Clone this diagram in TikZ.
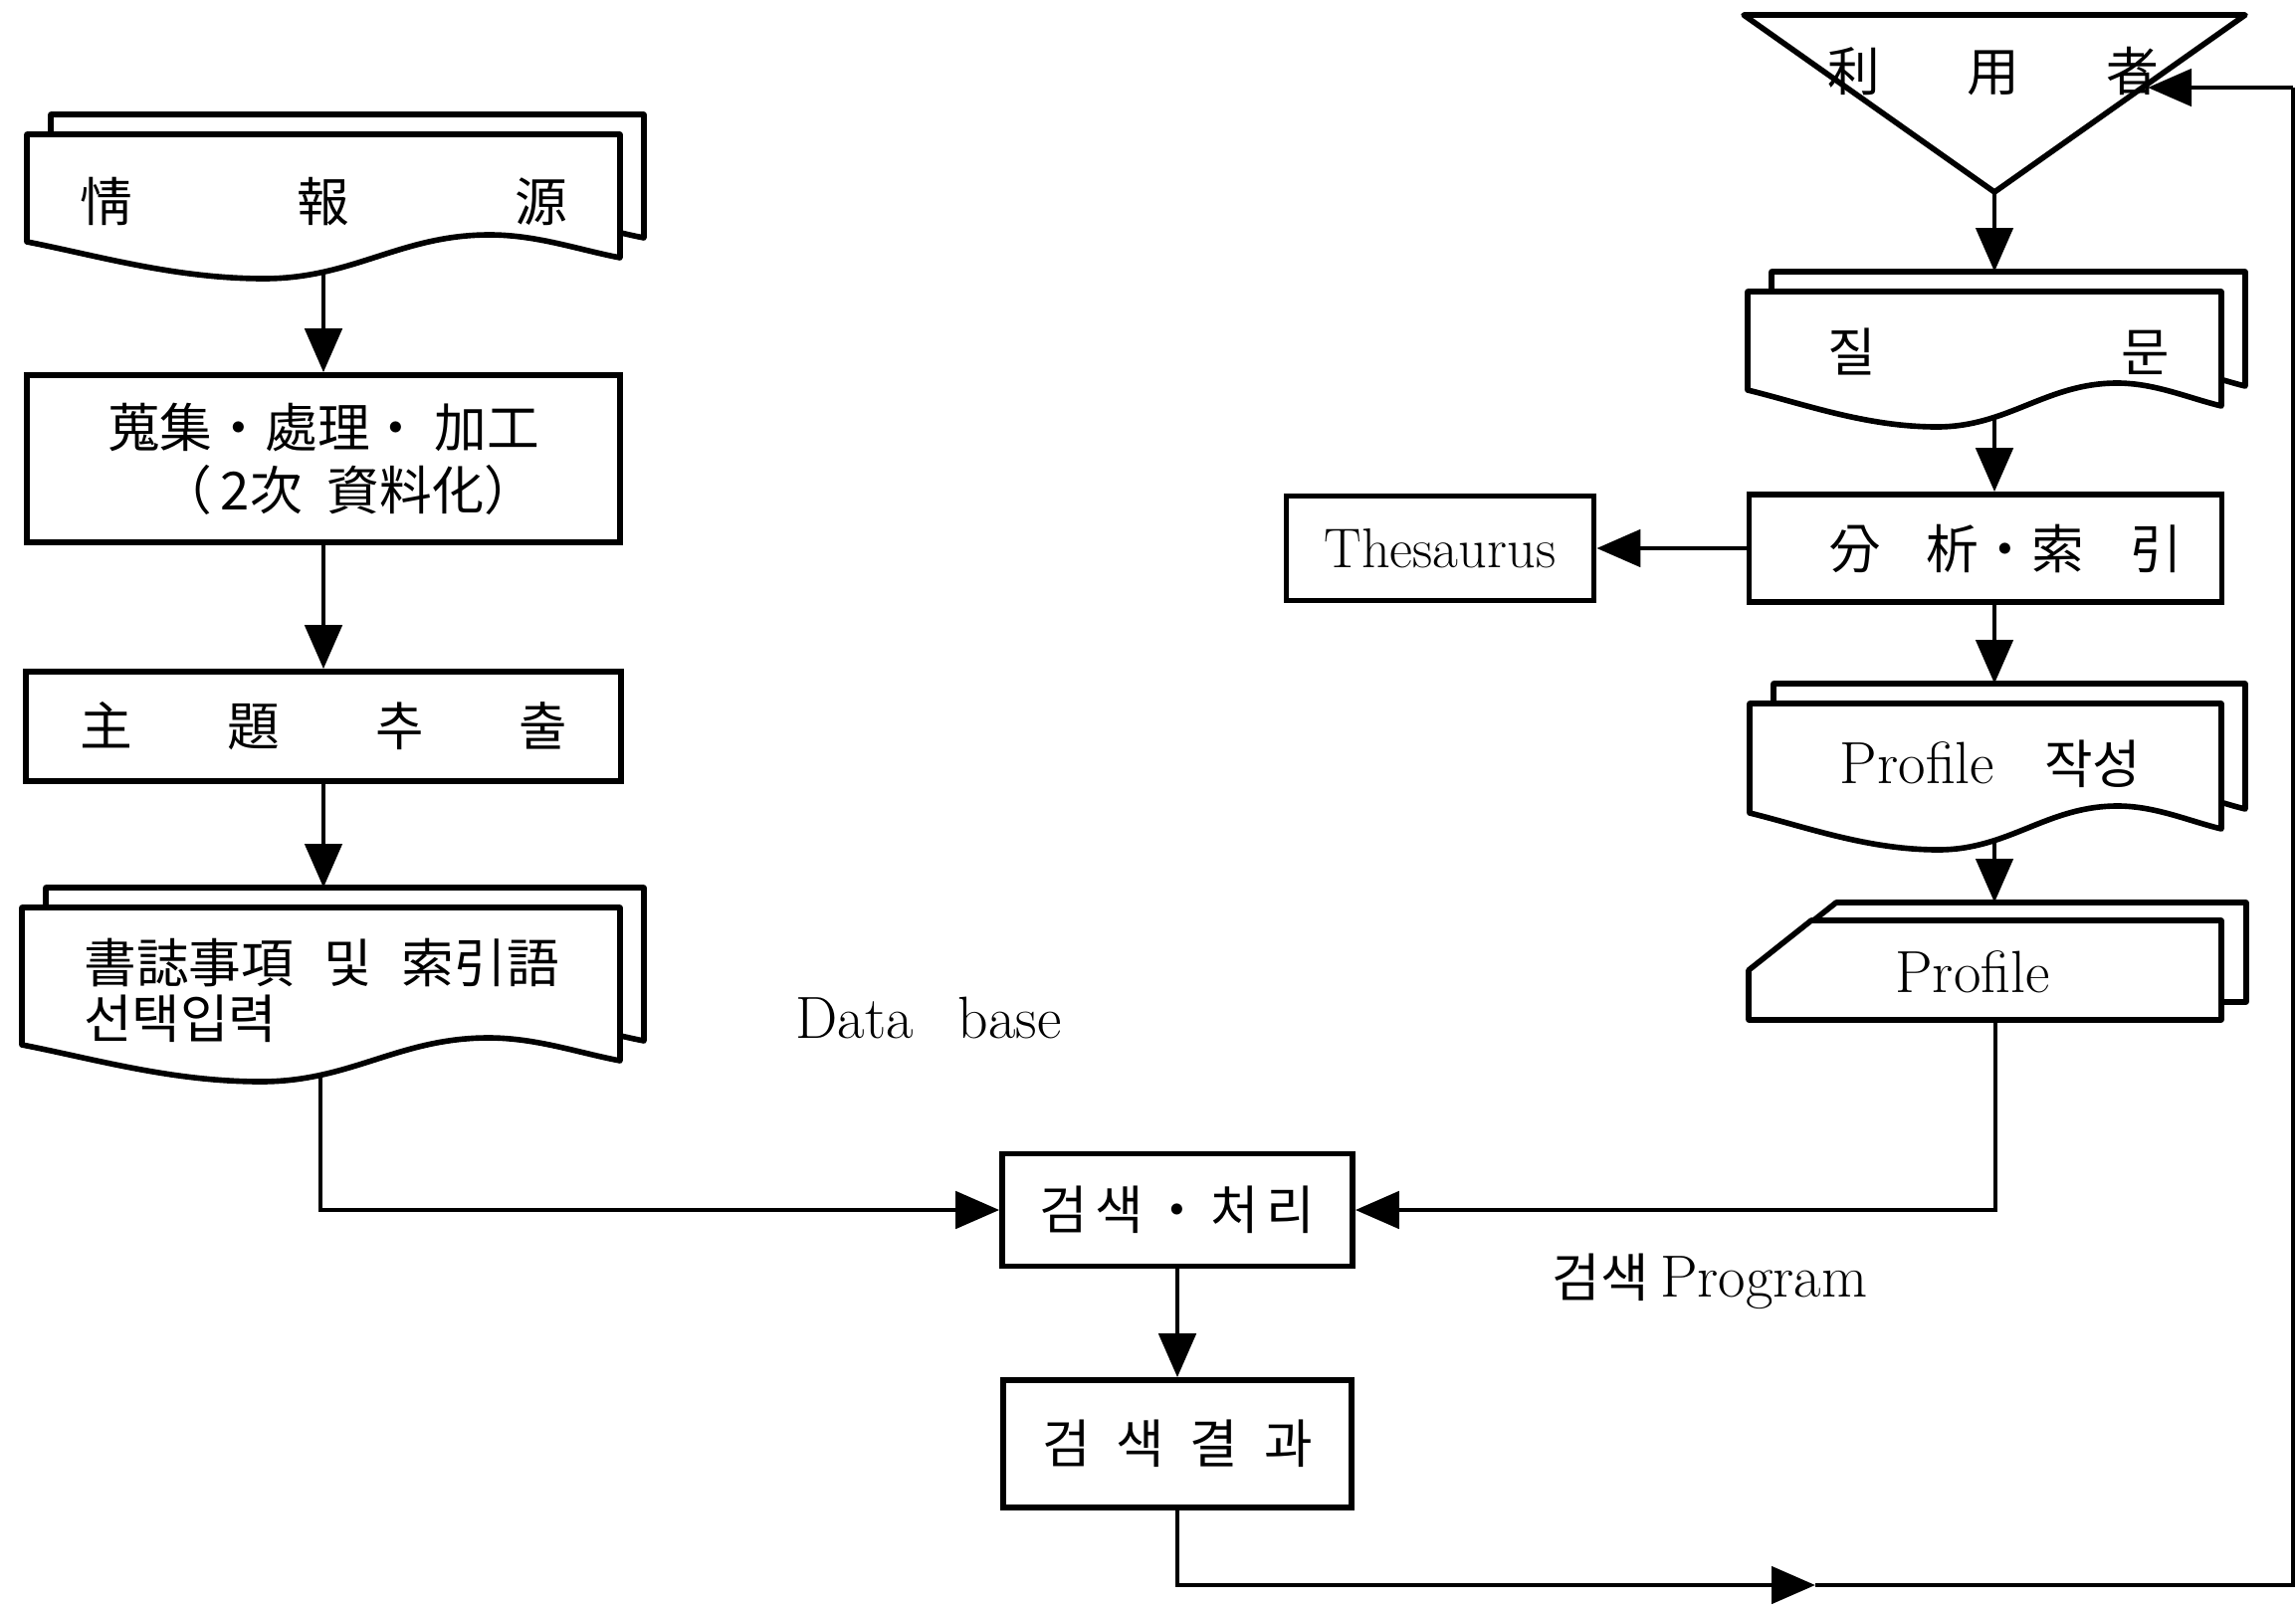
\documentclass[tikz,border=0pt]{standalone}
\usepackage{fontspec}
\newfontfamily\kr{Noto Sans CJK KR}
\usetikzlibrary{arrows.meta}

\pgfdeclarelayer{paper}
\pgfdeclarelayer{wires}
\pgfsetlayers{paper,wires,main}

\tikzset{
  sheet/.style={draw,fill=white,line width=1.6pt,line join=round},
  box/.style={draw,fill=white,line width=1.6pt,inner sep=0pt,align=center},
  krtext/.style={font=\kr\fontsize{15}{18}\selectfont},
  latin/.style={font=\fontsize{17}{20}\selectfont},
  link/.style={line width=1.4pt},
  flow/.style={link,-{Triangle[length=4.4mm,width=3.7mm]}},
}

% sheet with a wavy lower edge: left, top, right, lower left corner
\newcommand{\wavesheet}[4]{%
  \draw[sheet] ({#1},{#2}) -- ({#3},{#2}) -- ({#3},{(#4)+16})
    .. controls ({(#1)+0.93*((#3)-(#1))},{(#4)+8}) and ({(#1)+0.86*((#3)-(#1))},{(#4)-7}) .. ({(#1)+0.78*((#3)-(#1))},{(#4)-7})
    .. controls ({(#1)+0.63*((#3)-(#1))},{(#4)-7}) and ({(#1)+0.55*((#3)-(#1))},{(#4)+37}) .. ({(#1)+0.4*((#3)-(#1))},{(#4)+37})
    .. controls ({(#1)+0.25*((#3)-(#1))},{(#4)+37}) and ({(#1)+0.12*((#3)-(#1))},{(#4)+14}) .. ({#1},{#4})
    -- cycle;}
\newcommand{\wavestack}[4]{\wavesheet{(#1)+24}{(#2)-20}{(#3)+24}{(#4)-20}\wavesheet{#1}{#2}{#3}{#4}}

% card with the top left corner cut off
\newcommand{\cardsheet}[4]{%
  \draw[sheet] ({(#1)+63},{#2}) -- ({#3},{#2}) -- ({#3},{#4}) -- ({#1},{#4}) -- ({#1},{(#2)+50}) -- cycle;}

\begin{document}
\begin{tikzpicture}[x=0.1mm,y=-0.1mm]
\begin{pgfonlayer}{paper}
\fill[white] (0,0) rectangle (2307,1612);
\end{pgfonlayer}
\useasboundingbox (0,0) rectangle (2307,1612);

% left column
\wavestack{27}{135}{623}{243}
\node[krtext] (src) at (325,203) {\makebox[49mm]{情\hfill 報\hfill 源}};

\node[box,krtext,minimum width=59.6mm,minimum height=16.8mm] (collect) at (325,461)
{蒐集・處理・ 加工\\\hspace*{5mm}（\,2次\hspace{2.5mm}資料化）};

\node[box,krtext,minimum width=59.8mm,minimum height=11mm] (subject) at (325,730)
{\makebox[49mm]{主\hfill 題\hfill 추\hfill 출}};

\wavestack{22}{912}{623}{1050}
\coordinate (bib-top) at (325,892);
\coordinate (bib-out) at (322,1000);
\node[krtext,font=\kr\fontsize{15}{16}\selectfont,align=left,anchor=west] (biblio) at (72,995)
{書誌事項\hspace{3mm}및\hspace{3mm}索引語\\선택입력};

% right column
\draw[sheet] (1752,15) -- (2256,15) -- (2004,193) -- cycle;
\node[krtext] (user) at (2003,72) {\makebox[33.3mm]{利\hfill 用\hfill 者}};
\coordinate (apex) at (2004,193);

\wavestack{1756}{293}{2232}{392}
\node[krtext] (query) at (2008,353) {\makebox[34.3mm]{질\hfill 문}};
\coordinate (q-top) at (2004,273);
\coordinate (q-out) at (2004,380);

\node[box,krtext,minimum width=47.5mm,minimum height=10.8mm] (analyze) at (1995,551)
{\hspace*{4mm}\makebox[35.6mm]{分\hfill 析・索\hfill 引}};
\node[box,font=\fontsize{16}{20}\selectfont,minimum width=30.9mm,minimum height=10.5mm] (thes) at (1447,551) {Thesaurus};

\wavestack{1758}{707}{2232}{817}
\node (profmake) at (2000,768) {{\fontsize{17}{20}\selectfont Profile}\hspace{5mm}{\kr\fontsize{15}{18}\selectfont 작성}};
\coordinate (pm-top) at (2004,687);
\coordinate (pm-out) at (2004,800);

\cardsheet{1782}{907}{2257}{1007}
\cardsheet{1757}{925}{2232}{1025}
\node[latin] (profile) at (1982,977) {Profile};
\coordinate (card-top) at (2004,907);
\coordinate (card-out) at (2005,1000);

% search
\node[box,krtext,minimum width=35.2mm,minimum height=11.3mm] (search) at (1183,1216)
{\makebox[27.7mm]{검\hfill 색\hfill ・\hfill 처\hfill 리}};
\node[box,krtext,minimum width=35mm,minimum height=12.8mm] (result) at (1183,1451)
{\makebox[27.2mm]{검\hfill 색\hfill 결\hfill 과}};

\node[latin] (dbase) at (933,1023) {Data\hspace{4.5mm}base};
\node (sprog) at (1718,1288) {{\kr\fontsize{15}{18}\selectfont 검색} {\fontsize{17}{20}\selectfont Program}};

\coordinate (back-tip) at (1824,1593);
\coordinate (loop-br) at (2304,1593);
\coordinate (loop-tr) at (2304,88);
\coordinate (user-in) at (2158,88);

\begin{pgfonlayer}{wires}
\draw[flow] (src) -- (collect);
\draw[flow] (collect) -- (subject);
\draw[flow] (subject) -- (bib-top);
\draw[flow] (bib-out) |- (search.west);

\draw[flow] (apex) -- (q-top);
\draw[flow] (q-out) -- (q-out |- analyze.north);
\draw[flow] (analyze) -- (thes);
\draw[flow] (pm-top |- analyze.south) -- (pm-top);
\draw[flow] (pm-out) -- (card-top);
\draw[flow] (card-out) |- (search.east);

\draw[flow] (search) -- (result);
\draw[flow] (result) |- (back-tip);
\draw[link] (back-tip) -- (loop-br) -- (loop-tr);
\draw[flow] (loop-tr) -- (user-in);
\end{pgfonlayer}
\end{tikzpicture}
\end{document}
